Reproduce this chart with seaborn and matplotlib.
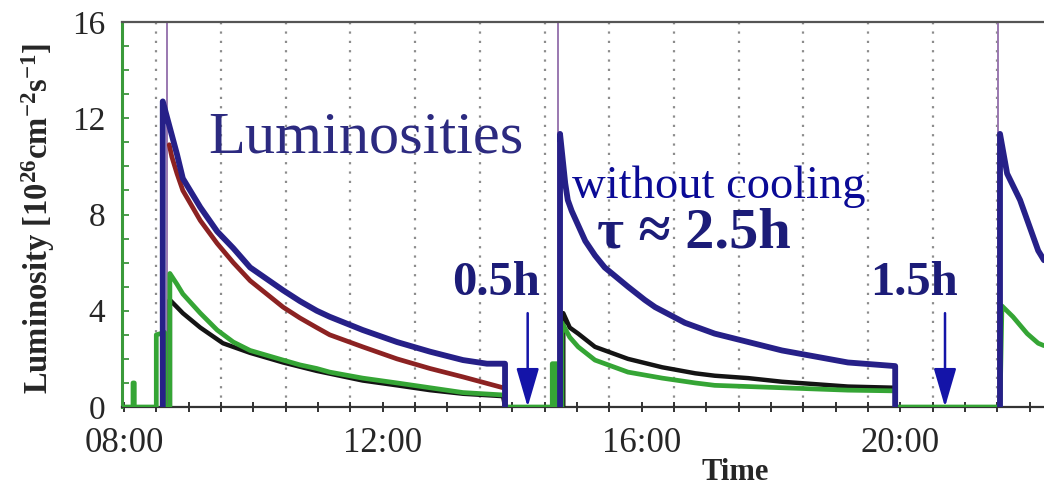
import pandas as pd
import matplotlib
matplotlib.use('Agg')
import matplotlib.pyplot as plt
from matplotlib.ticker import FixedLocator, MultipleLocator
import seaborn as sns

# time in hours of the day, luminosity in 10^26 cm^-2 s^-1
# fill 1
blue1_t = [8.60, 8.60, 8.71, 8.82, 8.91, 9.18, 9.44, 9.69, 9.95, 10.46, 10.72, 10.98, 11.18, 11.69, 12.22, 12.73, 13.24, 13.61, 13.89, 13.89]
blue1_v = [0, 12.7, 11.6, 10.5, 9.5, 8.3, 7.3, 6.6, 5.8, 4.85, 4.4, 4.0, 3.75, 3.2, 2.7, 2.3, 1.95, 1.8, 1.8, 0]
red1_t = [8.70, 8.74, 8.82, 8.91, 9.18, 9.44, 9.69, 9.95, 10.46, 10.72, 10.98, 11.18, 11.69, 12.22, 12.73, 13.24, 13.86, 13.89, 13.89]
red1_v = [10.9, 10.4, 9.7, 9.0, 7.75, 6.8, 6.0, 5.25, 4.15, 3.7, 3.3, 3.0, 2.5, 2.0, 1.6, 1.25, 0.8, 0.75, 0]
black1_t = [8.71, 8.71, 8.82, 8.91, 9.18, 9.53, 9.95, 10.46, 10.98, 11.69, 12.22, 12.73, 13.24, 13.86, 13.89]
black1_v = [0, 4.45, 4.15, 3.9, 3.3, 2.65, 2.25, 1.85, 1.5, 1.1, 0.9, 0.7, 0.55, 0.45, 0]

# fill 2
blue2_t = [14.74, 14.74, 14.82, 14.86, 14.92, 15.13, 15.28, 15.43, 15.79, 16.05, 16.21, 16.67, 17.13, 17.65, 18.17, 18.68, 19.19, 19.92, 19.92]
blue2_v = [0, 11.35, 9.3, 8.6, 8.15, 6.9, 6.3, 5.8, 5.0, 4.45, 4.15, 3.5, 3.05, 2.7, 2.35, 2.1, 1.85, 1.7, 0]
black2_t = [14.79, 14.79, 14.89, 15.02, 15.28, 15.79, 16.32, 16.83, 17.13, 17.65, 18.17, 18.68, 19.19, 19.92, 19.92]
black2_v = [0, 3.9, 3.3, 3.05, 2.5, 2.0, 1.65, 1.4, 1.3, 1.2, 1.05, 0.95, 0.85, 0.8, 0]

# fill 3
blue3_t = [21.54, 21.54, 21.65, 21.85, 22.13, 22.22]
blue3_v = [0, 11.35, 9.7, 8.6, 6.5, 6.1]

# green detector stays on the whole day
green_t = [7.97, 8.14, 8.14, 8.16, 8.16, 8.50, 8.50, 8.63, 8.63, 8.71, 8.71, 8.82, 8.91, 9.18, 9.44, 9.69, 9.95,
           10.46, 10.72, 10.98, 11.18, 11.69, 12.22, 12.73, 13.24, 13.86, 13.89, 13.89, 14.62, 14.62, 14.69,
           14.69, 14.77, 14.77, 14.89, 15.02, 15.28, 15.79, 16.32, 16.83, 17.13, 18.17, 19.19, 19.92, 19.92,
           21.54, 21.57, 21.74, 21.96, 22.13, 22.22]
green_v = [0, 0, 1.0, 1.0, 0, 0, 3.0, 3.1, 0, 0, 5.55, 5.1, 4.7, 3.9, 3.2, 2.7, 2.35,
           1.95, 1.75, 1.6, 1.45, 1.2, 1.0, 0.8, 0.6, 0.5, 0.5, 0, 0, 1.8, 1.8,
           0, 0, 3.5, 2.9, 2.5, 1.95, 1.45, 1.2, 1.0, 0.9, 0.8, 0.7, 0.67, 0,
           0, 4.2, 3.75, 3.05, 2.65, 2.55]

injections = [8.665, 14.71, 21.51]
gaps = [(14.24, '0.5h'), (20.69, '1.5h')]
gap_label_x = [13.07, 19.53]

hour_ticks = [8, 12, 16, 20]
hour_labels = ['08:00', '12:00', '16:00', '20:00']
lum_ticks = [0, 4, 8, 12, 16]

# long table for seaborn
rows = []
for beam, seg, t, v in [('blue', 1, blue1_t, blue1_v), ('blue', 2, blue2_t, blue2_v), ('blue', 3, blue3_t, blue3_v),
                        ('red', 1, red1_t, red1_v),
                        ('black', 1, black1_t, black1_v), ('black', 2, black2_t, black2_v),
                        ('green', 0, green_t, green_v)]:
    for i in range(len(t)):
        rows.append({'beam': beam, 'seg': seg, 'time': t[i], 'lum': v[i]})
df = pd.DataFrame(rows)

sns.set_theme(style='white')
plt.rcParams['font.family'] = ['Liberation Serif', 'DejaVu Serif']
plt.rcParams['mathtext.fontset'] = 'custom'
plt.rcParams['mathtext.rm'] = 'Liberation Serif:bold'
plt.rcParams['mathtext.it'] = 'Liberation Serif:bold'
plt.rcParams['mathtext.bf'] = 'Liberation Serif:bold'

fig = plt.figure(figsize=(10.44, 4.88), dpi=100)
ax = fig.add_axes([122 / 1044, 81 / 488, 922 / 1044, 385 / 488])

# dotted half-hour grid
for h in range(8, 22):
    ax.axvline(h + 0.5, color='#8c8c8c', lw=1.6, ls=(0, (1, 3.2)), zorder=0)

for t in injections:
    ax.axvline(t, color='#9a78b0', lw=1.4, zorder=1)

colors = {'black': '#141414', 'green': '#35a535', 'red': '#8c2222', 'blue': '#262088'}
widths = {'black': 3.2, 'green': 3.4, 'red': 3.4, 'blue': 4.2}
for beam in ['black', 'green', 'red', 'blue']:
    sub = df[df.beam == beam]
    sns.lineplot(data=sub, x='time', y='lum', units='seg', estimator=None, sort=False,
                 color=colors[beam], lw=widths[beam], ax=ax, legend=False, zorder=3)

ax.set_xlim(7.97, 22.22)
ax.set_ylim(0, 16)
ax.xaxis.set_major_locator(FixedLocator(hour_ticks))
ax.set_xticklabels(hour_labels)
ax.xaxis.set_minor_locator(MultipleLocator(0.5))
ax.yaxis.set_major_locator(FixedLocator(lum_ticks))
ax.yaxis.set_minor_locator(MultipleLocator(1))
ax.tick_params(axis='x', which='both', direction='inout', length=7, width=1.3, color='#222222',
               bottom=True, labelsize=25, pad=11)
ax.tick_params(axis='y', which='both', direction='in', length=5, width=1.2, color='#2e8b2e',
               left=True, labelsize=24, pad=12)

ax.spines['right'].set_visible(False)
ax.spines['top'].set_color('#555555')
ax.spines['top'].set_linewidth(1.6)
ax.spines['bottom'].set_color('#333333')
ax.spines['bottom'].set_linewidth(1.6)
ax.spines['left'].set_color('#3a9a3a')
ax.spines['left'].set_linewidth(2.2)

ax.set_xlabel('Time', fontsize=22, fontweight='bold')
ax.xaxis.set_label_coords(0.665, -0.133)
ax.set_ylabel(r'Luminosity [10$^{26}$cm$^{-2}$s$^{-1}$]', fontsize=23.5, fontweight='bold')
ax.yaxis.set_label_coords(-0.07, 0.49)

ax.text(9.30, 10.57, 'Luminosities', fontsize=43.5, color='#2c2a80')
ax.text(14.92, 8.7, 'without cooling', fontsize=33.5, color='#0a0a96')
ax.text(15.31, 6.63, u'\u03c4 \u2248 2.5h', fontsize=42, fontweight='bold', color='#1c1c78')

for (t, lab), lx in zip(gaps, gap_label_x):
    ax.text(lx, 4.64, lab, fontsize=35, fontweight='bold', color='#1c1c78')
    ax.annotate('', xy=(t, 0), xytext=(t, 3.9),
                arrowprops=dict(arrowstyle='-|>,head_length=1.2,head_width=0.35', mutation_scale=20,
                                lw=1.8, color='#1414a8', shrinkA=0, shrinkB=0))

fig.savefig('out.png', dpi=100)
